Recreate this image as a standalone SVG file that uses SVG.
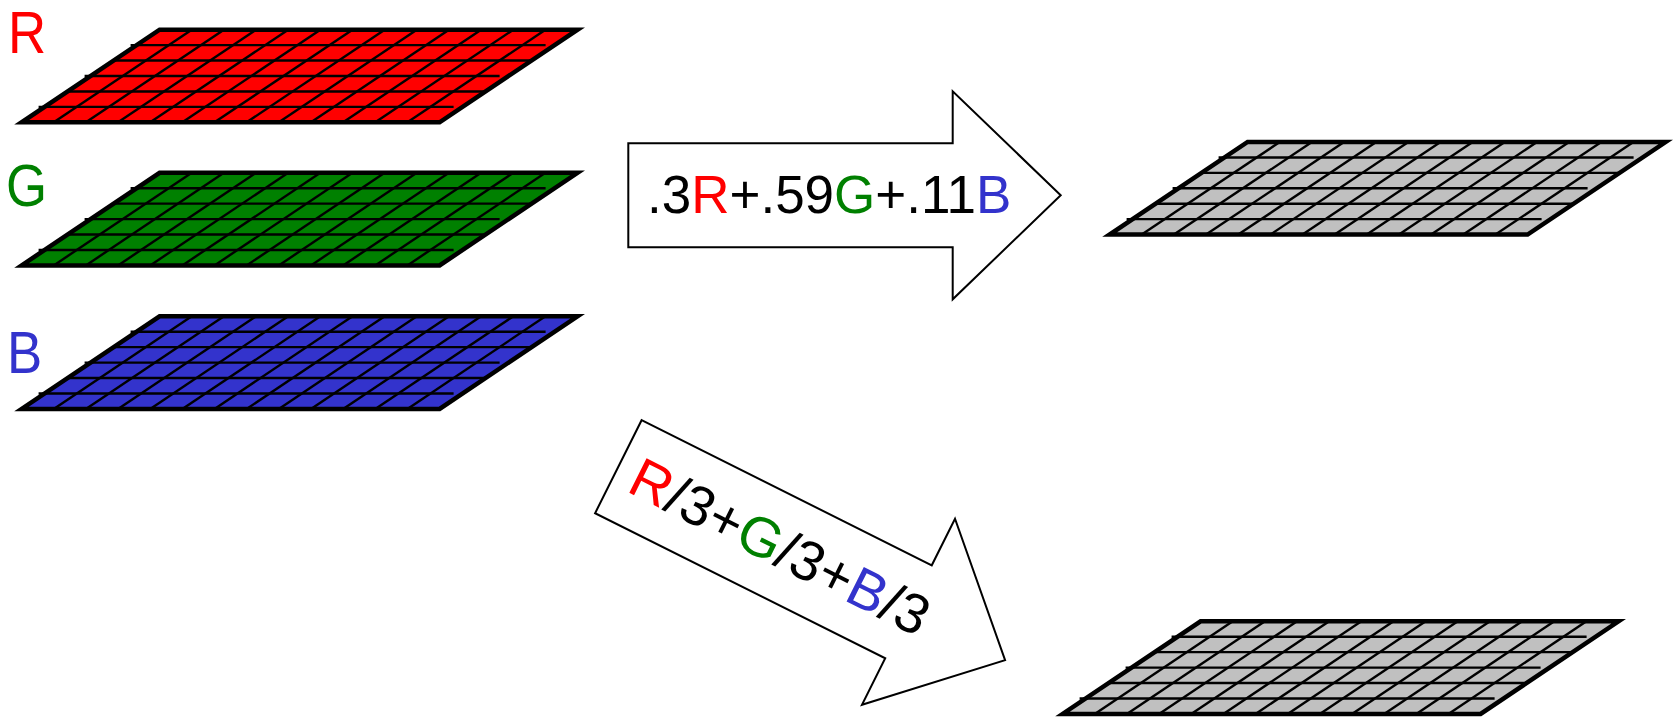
<svg xmlns="http://www.w3.org/2000/svg" xmlns:xlink="http://www.w3.org/1999/xlink" width="1673" height="718" viewBox="0 0 1673 718">
  <style>
    .t { font-family: "Liberation Sans", Arial, sans-serif; font-size: 53px; }
    .lbl { font-family: "Liberation Sans", Arial, sans-serif; font-size: 60px; }
    .cr { fill: #FF0000; }
    .cg { fill: #008000; }
    .cb { fill: #3333CC; }
    .ck { fill: #000000; }
    .plate { stroke: #000; stroke-width: 4.5; stroke-linejoin: miter; stroke-miterlimit: 10; }
    .grid line { stroke: #000; stroke-width: 2.4; }
    .arrow { fill: #FFFFFF; stroke: #000; stroke-width: 2; stroke-linejoin: miter; }
    .pr { fill: #FF0000; }
    .pg { fill: #008000; }
    .pb { fill: #3333CC; }
    .py { fill: #C0C0C0; }
  </style>
  <defs>
    <polygon id="plateShape" points="0,0 418,0 280,92.6 -138,92.6"/>
    <g id="gridLines" class="grid">
      <line x1="-29" y1="15.43" x2="386" y2="15.43"/>
      <line x1="-46" y1="30.87" x2="372" y2="30.87"/>
      <line x1="-75" y1="46.3" x2="340" y2="46.3"/>
      <line x1="-92" y1="61.73" x2="326" y2="61.73"/>
      <line x1="-121" y1="77.17" x2="294" y2="77.17"/>
      <line x1="32.15" y1="0" x2="-105.85" y2="92.6"/>
      <line x1="64.31" y1="0" x2="-73.69" y2="92.6"/>
      <line x1="96.46" y1="0" x2="-41.54" y2="92.6"/>
      <line x1="128.62" y1="0" x2="-9.38" y2="92.6"/>
      <line x1="160.77" y1="0" x2="22.77" y2="92.6"/>
      <line x1="192.92" y1="0" x2="54.92" y2="92.6"/>
      <line x1="225.08" y1="0" x2="87.08" y2="92.6"/>
      <line x1="257.23" y1="0" x2="119.23" y2="92.6"/>
      <line x1="289.38" y1="0" x2="151.38" y2="92.6"/>
      <line x1="321.54" y1="0" x2="183.54" y2="92.6"/>
      <line x1="353.69" y1="0" x2="215.69" y2="92.6"/>
      <line x1="385.85" y1="0" x2="247.85" y2="92.6"/>
    </g>
    <polygon id="arrowShape" points="0,-52 324.4,-52 324.4,-104 432.4,0 324.4,104 324.4,52 0,52"/>
  </defs>

  <rect x="0" y="0" width="1673" height="718" fill="#FFFFFF"/>

  <g id="plate-r">
    <g transform="translate(159.6,29.7)">
      <use xlink:href="#plateShape" href="#plateShape" class="plate pr"/>
      <use xlink:href="#gridLines" href="#gridLines"/>
    </g>
    <text class="lbl cr" transform="translate(8,53) scale(0.88,1)">R</text>
  </g>

  <g id="plate-g">
    <g transform="translate(159.6,172.8)">
      <use xlink:href="#plateShape" href="#plateShape" class="plate pg"/>
      <use xlink:href="#gridLines" href="#gridLines"/>
    </g>
    <text class="lbl cg" transform="translate(6,206) scale(0.88,1)">G</text>
  </g>

  <g id="plate-b">
    <g transform="translate(159.6,316.3)">
      <use xlink:href="#plateShape" href="#plateShape" class="plate pb"/>
      <use xlink:href="#gridLines" href="#gridLines"/>
    </g>
    <text class="lbl cb" transform="translate(7,373) scale(0.88,1)">B</text>
  </g>

  <g id="plate-gray-weighted">
    <g transform="translate(1247.6,142)">
      <use xlink:href="#plateShape" href="#plateShape" class="plate py"/>
      <use xlink:href="#gridLines" href="#gridLines"/>
    </g>
  </g>

  <g id="plate-gray-average">
    <g transform="translate(1200.6,621.3)">
      <use xlink:href="#plateShape" href="#plateShape" class="plate py"/>
      <use xlink:href="#gridLines" href="#gridLines"/>
    </g>
  </g>

  <g id="connectors">
    <g id="arrow-weighted" transform="translate(628.3,195.3)">
      <use xlink:href="#arrowShape" href="#arrowShape" class="arrow"/>
      <text class="t" x="18.7" y="17.4"><tspan class="ck">.3</tspan><tspan class="cr">R</tspan><tspan class="ck">+.59</tspan><tspan class="cg">G</tspan><tspan class="ck">+.11</tspan><tspan class="cb">B</tspan></text>
    </g>
    <g id="arrow-average" transform="translate(618.35,466.7) rotate(26.57)">
      <use xlink:href="#arrowShape" href="#arrowShape" class="arrow"/>
      <text class="t" style="font-size:56px" x="17" y="18.5"><tspan class="cr">R</tspan><tspan class="ck">/3+</tspan><tspan class="cg">G</tspan><tspan class="ck">/3+</tspan><tspan class="cb">B</tspan><tspan class="ck">/3</tspan></text>
    </g>
  </g>
</svg>
